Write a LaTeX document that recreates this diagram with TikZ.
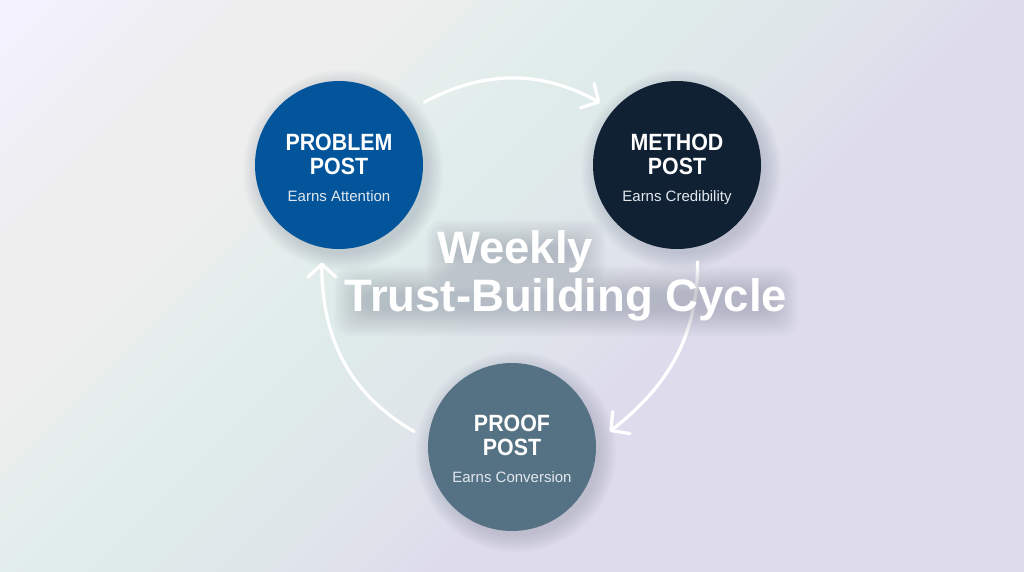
\documentclass[tikz,border=0pt]{standalone}
\usepackage{fontspec}
\setmainfont{Liberation Sans}
\newfontfamily\postfont[FakeStretch=0.91]{Liberation Sans}
\usetikzlibrary{positioning, calc, arrows.meta}

\definecolor{bgtop}{HTML}{F4F2FF}
\definecolor{bgsoft}{HTML}{F1F0F8}
\definecolor{bggrey}{HTML}{EEEEEE}
\definecolor{bgmint}{HTML}{E3EEEC}
\definecolor{bgteal}{HTML}{DFECEA}
\definecolor{bgmid}{HTML}{DFE5EA}
\definecolor{bglav}{HTML}{DEDCEC}
\definecolor{problemblue}{HTML}{02559B}
\definecolor{methodnavy}{HTML}{102133}
\definecolor{proofslate}{HTML}{557284}
\definecolor{subgrey}{HTML}{E2E8EE}
\definecolor{haze}{HTML}{6E7488}

\pgfdeclarehorizontalshading{bgwash}{100bp}{
	color(0bp)=(bgtop);
	color(32.4bp)=(bgtop);
	color(35bp)=(bgsoft);
	color(37.9bp)=(bggrey);
	color(41.2bp)=(bggrey);
	color(44.7bp)=(bgmint);
	color(46.7bp)=(bgteal);
	color(51.2bp)=(bgmid);
	color(54.5bp)=(bglav);
	color(100bp)=(bglav)}

\tikzset{
	postcircle/.style={circle, minimum size=168pt, inner sep=0pt, outer sep=15pt},
	posttitle/.style={text=white, align=center, font=\fontsize{23.5}{24}\postfont\bfseries, inner sep=0pt},
	postsub/.style={text=subgrey, font=\fontsize{15}{16}\selectfont, inner sep=0pt, anchor=base},
	cycletitle/.style={text=white, font=\fontsize{45.5}{50}\selectfont\bfseries, inner sep=0pt, anchor=base},
	cyclearrow/.style={draw=white, line width=3.2pt, line cap=round, -{Straight Barb[length=13pt, width=28pt, line width=3.2pt, round]}},
}

\newcommand{\softshadow}[1]{
	\foreach \r in {16, 14, ..., 0} {
		\fill[haze, opacity=0.03] ($(#1) + (4, 5)$) circle (84 + \r);
	}
}
\newcommand{\softbar}[4]{
	\foreach \r in {18, 16, ..., -8} {
		\fill[haze, opacity=0.026, rounded corners=16pt] (#1 - \r, #2 - \r) rectangle (#3 + \r, #4 + \r);
	}
}

\begin{document}
\begin{tikzpicture}[x=1pt, y=-1pt]
\useasboundingbox (0, 0) rectangle (1024, 571);
\begin{scope}
	\clip (0, 0) rectangle (1024, 571);
	\shade[shading=bgwash, shading angle=-45] (-288, -514.5) rectangle (1312, 1085.5);
\end{scope}

% circles
\coordinate (problemc) at (339, 165);
\coordinate (methodc) at (677, 165);
\coordinate (proofc) at (512, 447);
\softshadow{problemc}
\softshadow{methodc}
\softshadow{proofc}
\node[postcircle, fill=problemblue] (problem) at (problemc) {};
\node[postcircle, fill=methodnavy] (method) at (methodc) {};
\node[postcircle, fill=proofslate] (proof) at (proofc) {};

% arrows
\draw[cyclearrow, shorten <=7pt] (problem.37) to[out=28, in=151] (method.141);
\draw[cyclearrow] (method.-78) to[out=-90, in=38] (proof.9);
\draw[cyclearrow] (proof.171) to[out=150, in=-90] (problem.-100);

% labels
\node[posttitle] (problemtitle) at (339, 154) {PROBLEM\\POST};
\node[postsub] (problemsub) at (339, 201) {Earns Attention};
\node[posttitle] (methodtitle) at (677, 154) {METHOD\\POST};
\node[postsub] (methodsub) at (677, 201) {Earns Credibility};
\node[posttitle] (prooftitle) at (512, 435) {PROOF\\POST};
\node[postsub] (proofsub) at (512, 482) {Earns Conversion};

% title with blurred backing
\softbar{444}{238}{587}{268}
\softbar{352}{284}{780}{318}
\node[cycletitle] (titleweekly) at (515, 263) {Weekly};
\node[cycletitle] (titlecycle) at (566, 311) {Trust-Building Cycle};
\end{tikzpicture}
\end{document}
